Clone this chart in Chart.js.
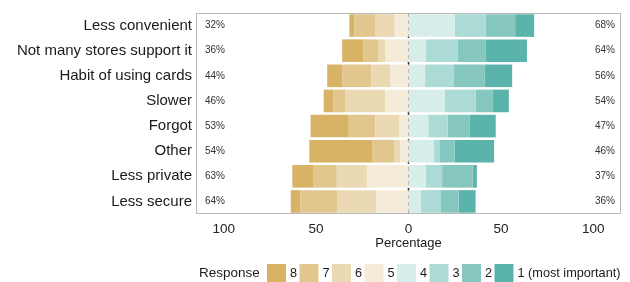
<!DOCTYPE html>
<html>
<head>
<meta charset="utf-8">
<script src="https://cdn.jsdelivr.net/npm/chart.js@4"></script>
<style>
  body { margin: 0; background: #fff; }
  #wrap { width: 630px; height: 282px; position: relative; }
</style>
</head>
<body>
<div id="wrap"><canvas id="grafico"></canvas></div>
<script>
const categorias = ['Less convenient', 'Not many stores support it', 'Habit of using cards', 'Slower', 'Forgot', 'Other', 'Less private', 'Less secure'];
const respostas = ['8', '7', '6', '5', '4', '3', '2', '1 (most important)'];
const cores = ['#D8B365', '#E1C68E', '#EAD9B3', '#F4ECD9', '#D6EDEA', '#ACDAD5', '#85C7BF', '#5AB4AC'];

// percent of answers per response, rows top to bottom
const resp8 = [2.6, 11.4, 8.3, 5.1, 20.7, 34.3, 11.6, 5.1];
const resp7 = [11.3, 8.0, 15.5, 6.5, 14.3, 11.6, 12.5, 20.3];
const resp6 = [10.7, 3.8, 10.2, 21.8, 13.1, 3.3, 16.3, 20.7];
const resp5 = [7.4, 12.7, 10.0, 12.5, 4.9, 4.5, 22.5, 17.6];
const resp4 = [25.0, 9.5, 9.0, 19.6, 10.7, 13.6, 9.3, 6.7];
const resp3 = [16.9, 17.0, 15.3, 16.7, 10.5, 3.1, 8.9, 10.5];
const resp2 = [15.8, 15.4, 16.8, 9.1, 11.8, 8.2, 16.5, 10.0];
const resp1 = [10.3, 22.2, 15.0, 8.9, 14.2, 21.4, 2.3, 9.1];

const ticksX = [-100, -50, 0, 50, 100];

const fonte = "'Liberation Sans', Arial, sans-serif";

// left side (8..5) goes negative, right side (4..1) positive
const porResposta = [resp8, resp7, resp6, resp5, resp4, resp3, resp2, resp1];
const ordem = [3, 2, 1, 0, 4, 5, 6, 7];
const datasets = ordem.map(function (i) {
    const neg = i < 4;
    return {
        label: respostas[i],
        data: porResposta[i].map(v => neg ? -v : v),
        backgroundColor: cores[i],
        borderWidth: 0,
        barPercentage: 0.9,
        categoryPercentage: 1.0
    };
});

const somaEsq = categorias.map((c, k) => resp8[k] + resp7[k] + resp6[k] + resp5[k]);
const somaDir = categorias.map((c, k) => resp4[k] + resp3[k] + resp2[k] + resp1[k]);

const extras = {
    id: 'extras',
    beforeDatasetsDraw(chart) {
        const ctx = chart.ctx;
        const area = chart.chartArea;
        const x0 = chart.scales.x.getPixelForValue(0);
        ctx.save();
        ctx.strokeStyle = '#333333';
        ctx.lineWidth = 1.5;
        ctx.setLineDash([4, 3]);
        ctx.beginPath();
        ctx.moveTo(x0, area.top);
        ctx.lineTo(x0, area.bottom);
        ctx.stroke();
        ctx.restore();
    },
    afterDraw(chart) {
        const ctx = chart.ctx;
        const area = chart.chartArea;
        const y = chart.scales.y;
        ctx.save();
        // panel border
        ctx.strokeStyle = '#B8B8B8';
        ctx.lineWidth = 1;
        ctx.strokeRect(area.left + 0.5, area.top + 0.5, area.right - area.left - 1, area.bottom - area.top - 1);

        // percentage labels
        ctx.fillStyle = '#333333';
        ctx.font = '10px ' + fonte;
        ctx.textBaseline = 'middle';
        categorias.forEach(function (c, k) {
            const yy = y.getPixelForValue(k);
            ctx.textAlign = 'left';
            ctx.fillText(Math.round(somaEsq[k]) + '%', area.left + 9, yy);
            ctx.textAlign = 'right';
            ctx.fillText(Math.round(somaDir[k]) + '%', area.right - 6, yy);
        });

        // legend
        ctx.fillStyle = '#1a1a1a';
        ctx.font = '13.5px ' + fonte;
        ctx.textAlign = 'left';
        ctx.fillText('Response', 199, 273);
        ctx.font = '12.7px ' + fonte;
        respostas.forEach(function (r, i) {
            const bx = 267 + i * 32.5;
            ctx.fillStyle = cores[i];
            ctx.fillRect(bx, 264, 19, 19);
            ctx.fillStyle = '#1a1a1a';
            ctx.fillText(r, bx + 23, 273);
        });
        ctx.restore();
    }
};

new Chart(document.getElementById('grafico'), {
    type: 'bar',
    data: {
        labels: categorias,
        datasets: datasets
    },
    plugins: [extras],
    options: {
        indexAxis: 'y',
        responsive: true,
        maintainAspectRatio: false,
        animation: false,
        layout: {
            padding: { top: 10, right: 9, bottom: 20, left: 0 }
        },
        plugins: {
            legend: { display: false },
            tooltip: { enabled: false }
        },
        scales: {
            x: {
                stacked: true,
                min: -115,
                max: 115,
                afterBuildTicks: function (scale) {
                    scale.ticks = ticksX.map(v => ({ value: v }));
                },
                afterFit: function (scale) {
                    scale.height = 48;
                },
                grid: { display: false, drawTicks: false },
                border: { display: false },
                ticks: {
                    padding: 7,
                    color: '#222222',
                    font: { family: fonte, size: 13.5 },
                    callback: function (v) { return Math.abs(v); }
                },
                title: {
                    display: true,
                    text: 'Percentage',
                    color: '#1a1a1a',
                    font: { family: fonte, size: 13 },
                    padding: { top: 0, bottom: 11 }
                }
            },
            y: {
                stacked: true,
                afterFit: function (scale) {
                    scale.width = 196;
                },
                grid: { display: false, drawTicks: false },
                border: { display: false },
                ticks: {
                    padding: 4,
                    color: '#1a1a1a',
                    font: { family: fonte, size: 15 }
                }
            }
        }
    }
});
</script>
</body>
</html>
